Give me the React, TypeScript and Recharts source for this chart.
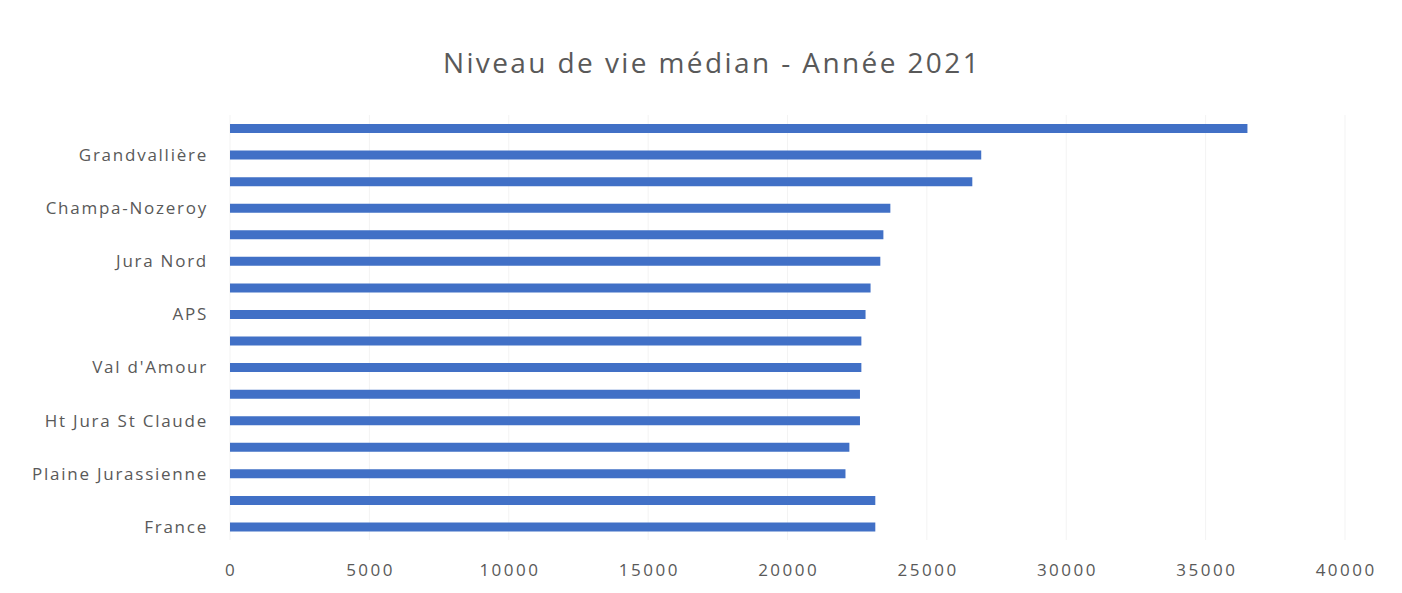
import React from "react";
import { BarChart, Bar, XAxis, YAxis, CartesianGrid } from "recharts";

const categories = [
  "Station des Rousses",
  "Grandvallière",
  "Haut-Jura Arcade",
  "Champa-Nozeroy",
  "Pays des Lacs",
  "Jura Nord",
  "Jura Sud",
  "APS",
  "Bresse Haute Seille",
  "Val d'Amour",
  "Porte du Jura",
  "Ht Jura St Claude",
  "Terre d'Émeraude",
  "Plaine Jurassienne",
  "Jura",
  "France",
];
const values = [
  36500, 26950, 26630, 23690, 23440, 23330, 22980, 22800, 22650, 22650, 22600,
  22600, 22220, 22080, 23150, 23150,
];
const xTicks = [0, 5000, 10000, 15000, 20000, 25000, 30000, 35000, 40000];
const title = "Niveau de vie médian - Année 2021";

const data = categories.map((name, i) => ({ name, value: values[i] }));

const FONT = "'Open Sans', 'Noto Sans', sans-serif";

export default function App() {
  return (
    <div style={{ position: "relative", width: 1386, height: 580, background: "#fff" }}>
      <div
        style={{
          position: "absolute",
          top: 35,
          left: 0,
          width: 1386,
          textAlign: "center",
          fontFamily: FONT,
          fontSize: 28,
          letterSpacing: 2.4,
          lineHeight: "38px",
          color: "#595959",
          paddingLeft: 22,
          boxSizing: "border-box",
        }}
      >
        {title}
      </div>
      <BarChart
        width={1386}
        height={580}
        data={data}
        layout="vertical"
        margin={{ top: 107, right: 49, bottom: 8, left: 0 }}
        barSize={9}
      >
        <CartesianGrid horizontal={false} stroke="#f3f3f3" />
        <XAxis
          type="number"
          domain={[0, 40000]}
          ticks={xTicks}
          interval={0}
          axisLine={false}
          tickLine={false}
          tickSize={0}
          tickMargin={24}
          height={40}
          tick={{ fill: "#595959", fontSize: 17, fontFamily: FONT, letterSpacing: 2.5, dx: 1.2 }}
        />
        <YAxis
          type="category"
          dataKey="name"
          width={222}
          interval={0}
          axisLine={false}
          tickLine={false}
          tickSize={0}
          tickMargin={22}
          tickFormatter={(v: string, i: number) => (i % 2 === 1 ? v : "")}
          tick={{ fill: "#595959", fontSize: 17, fontFamily: FONT, letterSpacing: 1.75 }}
        />
        <Bar dataKey="value" fill="#4170C6" isAnimationActive={false} />
      </BarChart>
    </div>
  );
}
